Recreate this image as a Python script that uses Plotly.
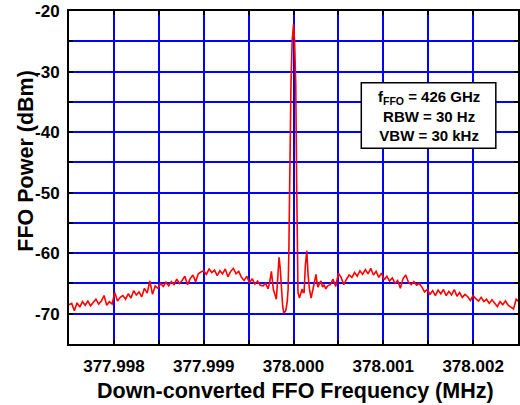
import plotly.graph_objects as go

# Offset from 378 MHz carrier (Hz) and measured power (dBm)
offset_hz = [
    -2500, -2470, -2440, -2410, -2380, -2350, -2320, -2290, -2260, -2230,
    -2200, -2170, -2140, -2110, -2080, -2050, -2020, -1990, -1960, -1930,
    -1900, -1870, -1840, -1810, -1780, -1750, -1720, -1690, -1660, -1630,
    -1600, -1570, -1540, -1510, -1480, -1450, -1420, -1390, -1360, -1330,
    -1300, -1270, -1240, -1210, -1180, -1150, -1120, -1090, -1060, -1030,
    -1000, -970, -940, -910, -880, -850, -820, -790, -760, -730,
    -700, -670, -640, -610, -580, -550, -520, -490, -460, -430,
    -400, -370, -340, -310, -283, -265, -246, -224, -205, -191,
    -175, -161, -148, -136, -120, -108, -86, -70, -60, -52,
    -40, -28, -15, 0, 12, 25, 35, 42, 50, 66,
    80, 96, 108, 118, 132, 148, 162, 177, 196, 218,
    235, 251, 262, 273, 290, 306, 323, 340, 360, 380,
    410, 440, 470, 500, 530, 560,
    590, 620, 650, 680, 710, 740, 770, 800, 830, 860,
    890, 920, 950, 980, 1010, 1040, 1070, 1100, 1130, 1160,
    1190, 1220, 1250, 1280, 1310, 1340, 1370, 1400, 1430, 1460,
    1490, 1520, 1550, 1580, 1610, 1640, 1670, 1700, 1730, 1760,
    1790, 1820, 1850, 1880, 1910, 1940, 1970, 2000, 2030, 2060,
    2090, 2120, 2150, 2180, 2210, 2240, 2270, 2300, 2330, 2360,
    2390, 2420, 2450, 2480, 2510,
]
power_dbm = [
    -68.5, -68.3, -69.5, -68.2, -68.9, -68.0, -68.6, -67.9, -68.7, -68.2,
    -67.6, -68.4, -67.9, -67.0, -68.6, -68.0, -68.4, -66.5, -67.9, -67.3,
    -67.0, -67.6, -66.7, -67.4, -66.2, -66.9, -66.4, -67.2, -65.8, -66.6,
    -64.6, -66.8, -65.4, -65.8, -65.0, -65.5, -64.8, -65.4, -64.7, -65.2,
    -64.3, -65.0, -64.5, -63.8, -65.2, -64.2, -63.6, -64.7, -63.4, -63.1,
    -62.9, -63.5, -62.6, -63.2, -62.8, -63.7, -62.9, -63.4, -62.6, -63.9,
    -63.0, -62.5, -63.4, -63.0, -64.0, -64.5, -63.8, -64.9, -64.2, -65.1,
    -64.6, -65.3, -65.4, -65.0, -65.9, -64.8, -63.0, -66.0, -67.2, -67.6,
    -64.0, -60.7, -62.5, -66.0, -68.8, -69.9, -69.5, -68.0, -66.0, -60.0,
    -45.0, -32.0, -25.0, -22.2, -25.0, -32.0, -48.0, -62.0, -66.5, -67.4,
    -66.8, -65.9, -66.5, -66.5, -62.0, -59.6, -63.5, -65.9, -67.4, -65.9,
    -64.5, -63.5, -65.0, -65.6, -65.0, -64.6, -65.6, -65.2, -65.9, -65.4,
    -65.2, -64.3, -65.5, -63.3, -64.0, -65.2,
    -64.3, -63.6, -64.0, -63.2, -63.8, -62.9, -63.5, -62.7, -63.4, -62.5,
    -63.6, -63.0, -64.0, -63.3, -64.4, -63.8, -64.6, -64.1, -65.0, -64.5,
    -65.8, -64.2, -63.6, -64.8, -65.2, -64.7, -65.3, -65.0, -65.6, -66.4,
    -66.0, -66.8, -66.2, -67.0, -66.1, -66.7, -66.0, -67.0, -66.3, -66.9,
    -66.0, -67.1, -66.5, -67.3, -66.8, -67.2, -67.8, -67.0, -67.5, -67.9,
    -67.3, -68.0, -67.6, -68.3, -67.7, -68.2, -68.8, -68.0, -68.5, -67.9,
    -68.6, -68.9, -69.2, -67.6, -68.0,
]
carrier_mhz = 378.0
freq_mhz = [carrier_mhz + h / 1e6 for h in offset_hz]

x_range = [377.9975, 378.0025]
y_range = [-75, -20]
x_tickvals = [377.998, 377.999, 378.000, 378.001, 378.002]
y_tickvals = [-70, -60, -50, -40, -30, -20]

FONT = "Liberation Sans, Arial, sans-serif"
GRID = "#0000ff"

fig = go.Figure()
fig.add_trace(go.Scatter(
    x=freq_mhz, y=power_dbm, mode="lines",
    line=dict(color="#ff0000", width=1.6), showlegend=False,
))

fig.update_layout(
    width=520, height=405,
    margin=dict(l=69, r=0, t=11, b=61),
    plot_bgcolor="white", paper_bgcolor="white",
    font=dict(family=FONT, color="black"),
)

fig.update_xaxes(
    range=x_range, tickvals=x_tickvals,
    ticktext=[f"{v:.3f}" for v in x_tickvals],
    showgrid=True, gridcolor=GRID, gridwidth=2,
    showline=True, linecolor="black", linewidth=2, mirror="ticks",
    ticks="inside", ticklen=4, tickwidth=2, tickcolor="black",
    tickfont=dict(family=FONT, size=17, color="black", weight="bold"),
    ticklabelstandoff=6,
    minor=dict(tick0=377.9975, dtick=0.0005, showgrid=True, gridcolor=GRID,
               gridwidth=2, ticks="inside", ticklen=4, tickcolor="black"),
    zeroline=False,
)
fig.update_yaxes(
    range=y_range, tickvals=y_tickvals,
    ticktext=[str(v) for v in y_tickvals],
    showgrid=True, gridcolor=GRID, gridwidth=2,
    showline=True, linecolor="black", linewidth=2, mirror="ticks",
    ticks="inside", ticklen=4, tickwidth=2, tickcolor="black",
    tickfont=dict(family=FONT, size=17, color="black", weight="bold"),
    ticklabelstandoff=4,
    minor=dict(tick0=-75, dtick=5, showgrid=True, gridcolor=GRID,
               gridwidth=2, ticks="inside", ticklen=4, tickcolor="black"),
    zeroline=False,
)

# Axis titles
fig.add_annotation(
    text="<b>Down-converted FFO Frequency (MHz)</b>",
    xref="paper", yref="paper", x=0.505, y=-0.141,
    xanchor="center", yanchor="middle",
    showarrow=False, font=dict(family=FONT, size=21.5, color="black"),
)
fig.add_annotation(
    text="<b>FFO Power (dBm)</b>", textangle=-90,
    xref="paper", yref="paper", x=-0.0976, y=0.551,
    xanchor="center", yanchor="middle",
    showarrow=False, font=dict(family=FONT, size=21.5, color="black"),
)

# Info box
fig.add_shape(
    type="rect", xref="paper", yref="paper",
    x0=0.651, x1=0.9506, y0=0.5877, y1=0.7847,
    line=dict(color="black", width=1.5), fillcolor="white", layer="above",
)
fig.add_annotation(
    text="<b>f<sub>FFO</sub> = 426 GHz</b><br><b>RBW = 30 Hz</b><br><b>VBW = 30 kHz</b>",
    xref="paper", yref="paper", x=0.8008, y=0.686,
    xanchor="center", yanchor="middle",
    showarrow=False, align="center",
    font=dict(family=FONT, size=15, color="black"),
)

fig.write_html("out.html")
